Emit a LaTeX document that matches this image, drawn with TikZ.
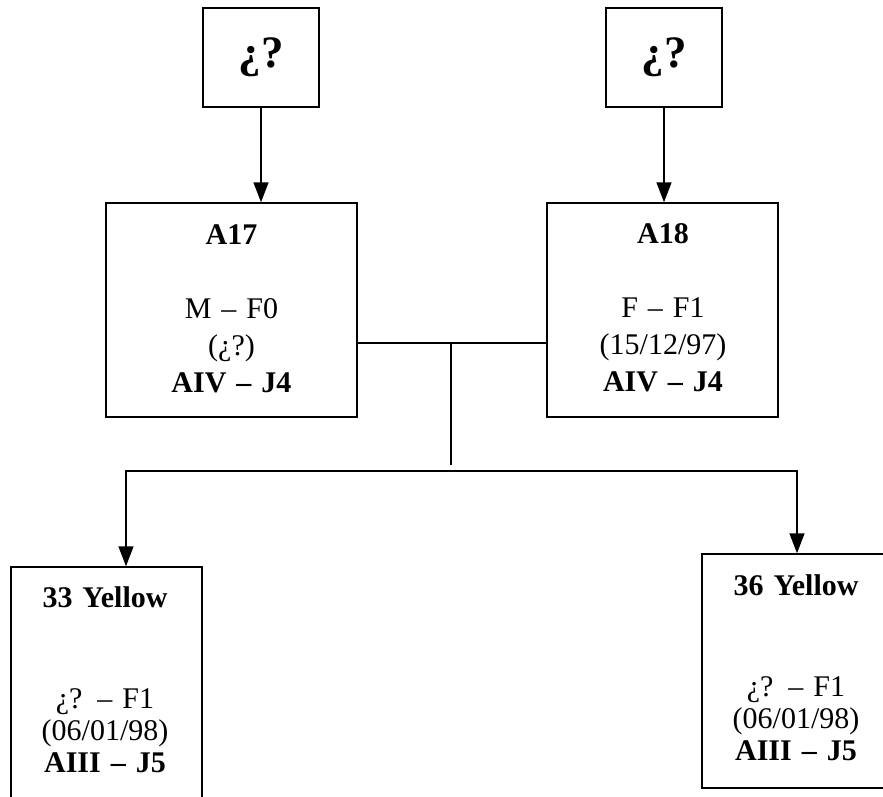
\documentclass[tikz,border=0pt]{standalone}
\usepackage{fontspec}
\setmainfont{Liberation Serif}
\usetikzlibrary{arrows.meta}
\begin{document}
\begin{tikzpicture}[x=1pt,y=-1pt,
  box/.style={draw, line width=1.5pt, inner sep=0pt},
  txt/.style={align=center, text width=200pt, inner sep=0pt, anchor=base,
              font=\fontsize{30}{37}\selectfont},
  smalltxt/.style={txt, font=\fontsize{30}{32}\selectfont},
  qtxt/.style={inner sep=0pt, anchor=base, font=\bfseries\fontsize{45}{50}\selectfont},
  link/.style={line width=1.5pt},
  arr/.style={link, -{Triangle[length=20pt,width=15pt]}}]
\useasboundingbox (0,0) rectangle (883,797);
\fill[white] (0,0) rectangle (883,797);

% unknown ancestors
\node[box, minimum width=116pt, minimum height=99pt] (q1) at (261,57.5) {};
\node[qtxt] (q1t) at (261,68) {¿?};
\node[box, minimum width=116pt, minimum height=99pt] (q2) at (664,57.5) {};
\node[qtxt] (q2t) at (664,68) {¿?};

% parents
\node[box, minimum width=251pt, minimum height=214pt] (a17) at (231.5,310) {};
\node[txt] (a17t) at (231.5,244)
  {\textbf{A17}\\[37pt]M – F0\\(¿?)\\\textbf{AIV – J4}};
\node[box, minimum width=231pt, minimum height=214pt] (a18) at (662.5,310) {};
\node[txt] (a18t) at (663,243)
  {\textbf{A18}\\[37pt]F – F1\\(15/12/97)\\\textbf{AIV – J4}};

% offspring
\node[box, minimum width=191pt, minimum height=273pt] (y33) at (106.5,703.5) {};
\node[smalltxt] (y33t) at (105,607)
  {\textbf{33 Yellow}\\[69pt]¿? – F1\\(06/01/98)\\\textbf{AIII – J5}};
\node[box, minimum width=190pt, minimum height=234pt] (y36) at (797,671) {};
\node[smalltxt] (y36t) at (796,595)
  {\textbf{36 Yellow}\\[69pt]¿? – F1\\(06/01/98)\\\textbf{AIII – J5}};

% descent from unknown ancestors
\draw[arr] (q1.south) -- (q1.south |- a17.north);
\draw[arr] (q2.south) -- (q2.south |- a18.north);

% mating line and drop to offspring
\coordinate (mate) at (451,343);
\coordinate (split) at (451,471);
\coordinate (lc) at (126,471);
\coordinate (rc) at (797,471);
\draw[link] (a17.east |- mate) -- (a18.west |- mate);
\draw[link] (mate) -- ([yshift=6pt]split);
\draw[arr] (split) -- (lc) -- (lc |- y33.north);
\draw[arr] (split) -- (rc) -- (rc |- y36.north);
\end{tikzpicture}
\end{document}
